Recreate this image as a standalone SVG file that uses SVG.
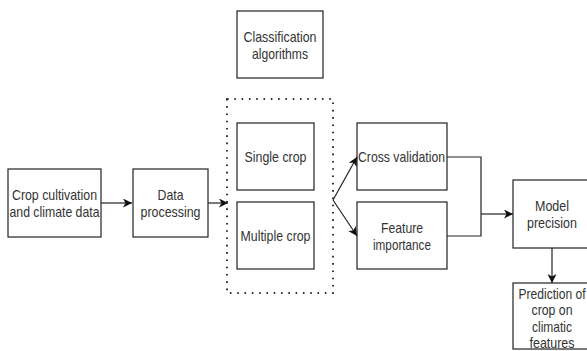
<svg xmlns="http://www.w3.org/2000/svg" width="587" height="351" viewBox="0 0 587 351">
<defs>
<style>
.box{fill:#fff;stroke:#222;stroke-width:1.2}
.dot{fill:none;stroke:#333;stroke-width:2;stroke-dasharray:1.6 5.7}
.t{font-family:"Liberation Sans",Arial,sans-serif;font-size:15px;fill:#333;text-anchor:middle}
.e{fill:none;stroke:#222;stroke-width:1.2}
</style>
<marker id="ah" markerUnits="userSpaceOnUse" markerWidth="10" markerHeight="10" refX="9" refY="4.5" orient="auto">
<path d="M0,0 L9,4.5 L0,9 L2.5,4.5 Z" fill="#111"/>
</marker>
</defs>
<rect width="587" height="351" fill="#fff"/>
<g id="container">
<rect class="dot" x="227" y="99" width="106" height="194"/>
</g>
<g id="n-crop">
<rect class="box" x="8" y="169" width="93" height="68"/>
<text class="t" x="54.5" y="199.5" textLength="85" lengthAdjust="spacingAndGlyphs">Crop cultivation</text>
<text class="t" x="54.5" y="216.5" textLength="90" lengthAdjust="spacingAndGlyphs">and climate data</text>
</g>
<g id="n-data">
<rect class="box" x="133" y="169" width="75" height="68"/>
<text class="t" x="170.5" y="199.5" textLength="26" lengthAdjust="spacingAndGlyphs">Data</text>
<text class="t" x="170.5" y="216.5" textLength="60" lengthAdjust="spacingAndGlyphs">processing</text>
</g>
<g id="n-class">
<rect class="box" x="237" y="11" width="86" height="67"/>
<text class="t" x="280" y="42" textLength="73" lengthAdjust="spacingAndGlyphs">Classification</text>
<text class="t" x="280" y="59" textLength="56" lengthAdjust="spacingAndGlyphs">algorithms</text>
</g>
<g id="n-single">
<rect class="box" x="237" y="123" width="77" height="67"/>
<text class="t" x="275.5" y="162" textLength="62" lengthAdjust="spacingAndGlyphs">Single crop</text>
</g>
<g id="n-multiple">
<rect class="box" x="237" y="202" width="77" height="67"/>
<text class="t" x="275.5" y="241" textLength="70" lengthAdjust="spacingAndGlyphs">Multiple crop</text>
</g>
<g id="n-cross">
<rect class="box" x="357" y="123" width="90" height="67"/>
<text class="t" x="401.5" y="162" textLength="87" lengthAdjust="spacingAndGlyphs">Cross validation</text>
</g>
<g id="n-feature">
<rect class="box" x="357" y="202" width="90" height="67"/>
<text class="t" x="402" y="232.5" textLength="42" lengthAdjust="spacingAndGlyphs">Feature</text>
<text class="t" x="402" y="249.5" textLength="58" lengthAdjust="spacingAndGlyphs">importance</text>
</g>
<g id="n-model">
<rect class="box" x="513" y="180" width="80" height="68"/>
<text class="t" x="552" y="211" textLength="34" lengthAdjust="spacingAndGlyphs">Model</text>
<text class="t" x="552" y="228" textLength="50" lengthAdjust="spacingAndGlyphs">precision</text>
</g>
<g id="n-predict">
<rect class="box" x="513" y="283" width="80" height="66"/>
<text class="t" x="552" y="298.5" textLength="67" lengthAdjust="spacingAndGlyphs">Prediction of</text>
<text class="t" x="552" y="315" textLength="41" lengthAdjust="spacingAndGlyphs">crop on</text>
<text class="t" x="552" y="332" textLength="40" lengthAdjust="spacingAndGlyphs">climatic</text>
<text class="t" x="552" y="348" textLength="45" lengthAdjust="spacingAndGlyphs">features</text>
</g>
<g id="connectors">
<path class="e" d="M101,203 H132" marker-end="url(#ah)"/>
<path class="e" d="M208,203 H228" marker-end="url(#ah)"/>
<path class="e" d="M333,200 L357,157" marker-end="url(#ah)"/>
<path class="e" d="M333,200 L357,236" marker-end="url(#ah)"/>
<path class="e" d="M447,157 H481 V236 H447"/>
<path class="e" d="M481,214 H513" marker-end="url(#ah)"/>
<path class="e" d="M552,248 V283" marker-end="url(#ah)"/>
</g>
</svg>
